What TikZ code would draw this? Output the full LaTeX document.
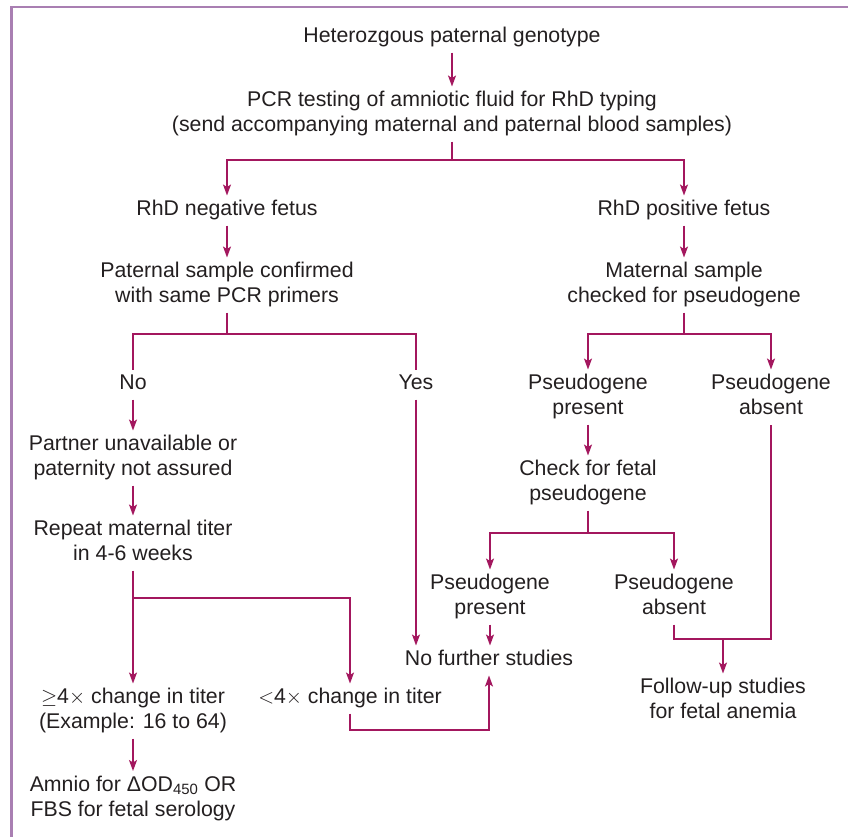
\documentclass[tikz,border=0pt]{standalone}
\usepackage{fontspec}
\setmainfont{Liberation Sans}
\usetikzlibrary{arrows.meta}
\definecolor{flow}{HTML}{A3175E}
\definecolor{framecol}{HTML}{A97FB2}
\definecolor{ink}{HTML}{231F20}

\begin{document}
\begin{tikzpicture}[x=1pt,y=-1pt,
  lbl/.style={align=center, inner sep=0pt, outer sep=2.5pt, anchor=base,
    font=\fontsize{21.3}{25}\selectfont, text=ink},
  link/.style={draw=flow, line width=1.4pt},
  arr/.style={link, -{Stealth[length=11pt,width=8pt,inset=2.5pt]}}]

\useasboundingbox (0,0) rectangle (848,836);

% panel frame (left and top edges)
\draw[framecol, line width=2.6pt] (11.7,845) -- (11.7,7) -- (860,7);

% nodes (placed by the baseline of their last line)
\node[lbl] (top)      at (452,42.5)  {\strut Heterozgous paternal genotype};
\node[lbl] (pcr)      at (452,131.5) {\strut PCR testing of amniotic fluid for RhD typing\\
                                      \strut(send accompanying maternal and paternal blood samples)};
\node[lbl] (neg)      at (227,215.5) {\strut RhD negative fetus};
\node[lbl] (pos)      at (684,215.5) {\strut RhD positive fetus};
\node[lbl] (patconf)  at (227,302.5) {\strut Paternal sample confirmed\\\strut with same PCR primers};
\node[lbl] (matsamp)  at (684,302.5) {\strut Maternal sample\\\strut checked for pseudogene};
\node[lbl] (no)       at (133,389.5) {\strut No};
\node[lbl] (yes)      at (416,389.5) {\strut Yes};
\node[lbl] (pp1)      at (588,414.5) {\strut Pseudogene\\\strut present};
\node[lbl] (pa1)      at (771,414.5) {\strut Pseudogene\\\strut absent};
\node[lbl] (partner)  at (133,475.5) {\strut Partner unavailable or\\\strut paternity not assured};
\node[lbl] (check)    at (588,500.5) {\strut Check for fetal\\\strut pseudogene};
\node[lbl] (repeat)   at (133,560.5) {\strut Repeat maternal titer\\\strut in 4-6 weeks};
\node[lbl] (pp2)      at (490,614.5) {\strut Pseudogene\\\strut present};
\node[lbl] (pa2)      at (674,614.5) {\strut Pseudogene\\\strut absent};
\node[lbl] (nofur)    at (489,665.5) {\strut No further studies};
\node[lbl] (followup) at (723,718.5) {\strut Follow-up studies\\\strut for fetal anemia};
\node[lbl] (ge4)      at (133,728.5) {\strut$\geq$4$\times$ change in titer\\\strut(Example: 16 to 64)};
\node[lbl] (lt4)      at (350,703.5) {\strut$<$4$\times$ change in titer};
\node[lbl] (amnio)    at (133,816)   {\strut Amnio for ΔOD\textsubscript{450} OR\\\strut FBS for fetal serology};

% branch points
\coordinate (b1) at (452,160);
\coordinate (b2) at (227,334);
\coordinate (b3) at (684,334);
\coordinate (b4) at (133,598);
\coordinate (b5) at (588,533);
\coordinate (jn) at (723,639);
\coordinate (rt) at (489,730);

% connectors
\draw[arr]  (top.south) -- (pcr.north);
\draw[link] (pcr.south) -- (b1);
\draw[arr]  (b1) -| (neg.north);
\draw[arr]  (b1) -| (pos.north);

\draw[arr]  (neg.south) -- (patconf.north);
\draw[link] (patconf.south) -- (b2);
\draw[link] (b2) -| (no.north);
\draw[link] (b2) -| (yes.north);
\draw[arr]  (yes.south) -- (yes.south |- nofur.north);

\draw[arr]  (no.south) -- (partner.north);
\draw[arr]  (partner.south) -- (repeat.north);
\draw[link] (repeat.south) -- (b4);
\draw[arr]  (b4) -- (ge4.north);
\draw[arr]  (b4) -| (lt4.north);
\draw[arr]  (ge4.south) -- (amnio.north);
\draw[arr]  (lt4.south) |- (rt) -- (nofur.south);

\draw[arr]  (pos.south) -- (matsamp.north);
\draw[link] (matsamp.south) -- (b3);
\draw[arr]  (b3) -| (pp1.north);
\draw[arr]  (b3) -| (pa1.north);
\draw[arr]  (pp1.south) -- (check.north);
\draw[link] (check.south) -- (b5);
\draw[arr]  (b5) -| (pp2.north);
\draw[arr]  (b5) -| (pa2.north);
\draw[arr]  (pp2.south) -- (pp2.south |- nofur.north);
\draw[link] (pa2.south) |- (jn) -| (pa1.south);
\draw[arr]  (jn) -- (followup.north);
\end{tikzpicture}
\end{document}
